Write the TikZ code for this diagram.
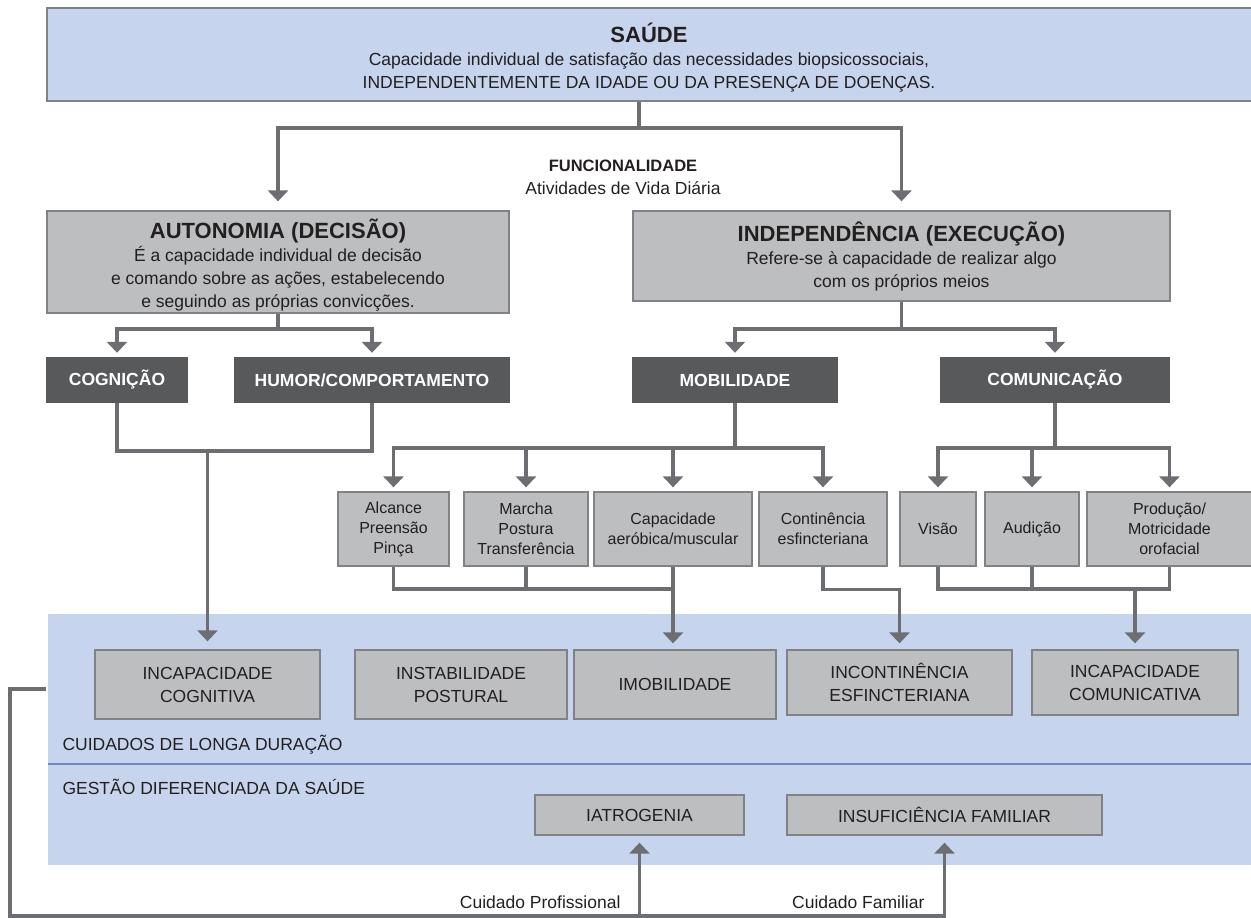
\documentclass[tikz,border=0pt]{standalone}
\usepackage{fontspec}
\setmainfont{Liberation Sans}
\usetikzlibrary{arrows.meta}

\definecolor{regiao}{HTML}{C6D5ED}
\definecolor{divisa}{HTML}{6A8BC0}
\definecolor{cinza}{HTML}{BCBEC0}
\definecolor{borda}{HTML}{808285}
\definecolor{escura}{HTML}{58595B}
\definecolor{linha}{HTML}{6D6E71}
\definecolor{texto}{HTML}{231F20}

\newcommand{\ftitulo}{\fontsize{22}{26}\selectfont\bfseries}
\newcommand{\fcorpo}{\fontsize{17.5}{23}\selectfont}
\newcommand{\fpeq}{\fontsize{16}{20}\selectfont}
\newcommand{\fescura}{\fontsize{17.5}{21}\selectfont\bfseries}

\begin{document}
\begin{tikzpicture}[x=1pt,y=-1pt,text=texto,
  liga/.style={draw=linha,line width=3.2pt},
  seta/.style={liga,-{Triangle[width=20pt,length=11pt]}},
  cxcinza/.style={draw=borda,fill=cinza,line width=1.3pt,inner sep=0pt,align=center,font=\fcorpo},
  cxescura/.style={fill=escura,text=white,inner sep=0pt,minimum height=46pt,font=\fescura},
  cxpeq/.style={cxcinza,minimum height=74pt,font=\fpeq},
  cxbaixo/.style={cxcinza,minimum height=69pt}]

\useasboundingbox (0,0) rectangle (1251,918);

\fill[regiao] (48,614) rectangle (1251,865);
\draw[divisa,line width=2.4pt] (48,764) -- (1251,764);

\coordinate (s1) at (639,128);
\coordinate (a1) at (278,329);
\coordinate (i1) at (901.5,329);
\coordinate (c1) at (207.5,451);
\coordinate (m1) at (735,448);
\coordinate (m2) at (673,589);
\coordinate (k1) at (1055,448);
\coordinate (k2) at (1135,589);
\coordinate (r1) at (46,689);
\coordinate (r2) at (10,916);

\node[cxcinza,fill=regiao,minimum width=1218pt,minimum height=93pt] (saude) at (656,54.5) {};
\node[align=center,font=\fcorpo] (saudetxt) at (649,58)
  {{\ftitulo SAÚDE}\\Capacidade individual de satisfação das necessidades biopsicossociais,\\INDEPENDENTEMENTE DA IDADE OU DA PRESENÇA DE DOENÇAS.};

\node[align=center,font=\fcorpo] (func) at (623,177)
  {{\fontsize{16.5}{20}\selectfont\bfseries FUNCIONALIDADE}\\Atividades de Vida Diária};

\node[cxcinza,minimum width=462pt,minimum height=102pt] (autonomia) at (278,262)
  {\rule{0pt}{26pt}{\ftitulo AUTONOMIA (DECISÃO)}\\É a capacidade individual de decisão\\e comando sobre as ações, estabelecendo\\e seguindo as próprias convicções.};
\node[cxcinza,minimum width=537pt,minimum height=90pt] (independencia) at (901.5,256)
  {{\ftitulo INDEPENDÊNCIA (EXECUÇÃO)}\\Refere-se à capacidade de realizar algo\\com os próprios meios};

\node[cxescura,minimum width=142pt] (cognicao) at (117,380) {COGNIÇÃO};
\node[cxescura,minimum width=276pt] (humor) at (372,380) {HUMOR/COMPORTAMENTO};
\node[cxescura,minimum width=206pt] (mobilidade) at (735,380) {MOBILIDADE};
\node[cxescura,minimum width=230pt] (comunicacao) at (1055,380) {COMUNICAÇÃO};

\node[cxpeq,minimum width=111pt] (alcance) at (393.5,529) {Alcance\\Preensão\\Pinça};
\node[cxpeq,minimum width=124pt] (marcha) at (526,529) {Marcha\\Postura\\Transferência};
\node[cxpeq,minimum width=158pt] (capacidade) at (673,529) {Capacidade\\aeróbica/muscular};
\node[cxpeq,minimum width=128pt] (continencia) at (823,529) {Continência\\esfincteriana};
\node[cxpeq,minimum width=76pt] (visao) at (938,529) {Visão};
\node[cxpeq,minimum width=94pt] (audicao) at (1032,529) {Audição};
\node[cxpeq,minimum width=165pt] (producao) at (1169.5,529) {Produção/\\Motricidade\\orofacial};

\node[cxbaixo,minimum width=225pt] (incapcog) at (207.5,684.5) {INCAPACIDADE\\COGNITIVA};
\node[cxbaixo,minimum width=212pt] (instab) at (461,684.5) {INSTABILIDADE\\POSTURAL};
\node[cxbaixo,minimum width=202pt] (imob) at (675,684.5) {IMOBILIDADE};
\node[cxbaixo,minimum width=225pt,minimum height=65pt] (incont) at (899.5,682.5) {INCONTINÊNCIA\\ESFINCTERIANA};
\node[cxbaixo,minimum width=206pt,minimum height=65pt] (incapcom) at (1135,682.5) {INCAPACIDADE\\COMUNICATIVA};

\node[anchor=west,font=\fcorpo] (longa) at (59,745) {CUIDADOS DE LONGA DURAÇÃO};
\node[anchor=west,font=\fcorpo] (gestao) at (59,787) {GESTÃO DIFERENCIADA DA SAÚDE};

\node[cxcinza,minimum width=209pt,minimum height=40pt] (iatro) at (639.5,815) {IATROGENIA};
\node[cxcinza,minimum width=315pt,minimum height=40pt] (insuf) at (944.5,815) {INSUFICIÊNCIA FAMILIAR};

\node[anchor=east,font=\fcorpo] (profissional) at (624,902) {Cuidado Profissional};
\node[anchor=east,font=\fcorpo] (familiar) at (928,902) {Cuidado Familiar};

\draw[liga] (saude.south -| s1) -- (s1);
\draw[seta,shorten >=9pt] (s1) -| (autonomia.north);
\draw[seta,shorten >=9pt] (s1) -| (independencia.north);

\draw[liga] (autonomia.south) -- (a1);
\draw[seta,shorten >=4pt] (a1) -| (cognicao.north);
\draw[seta,shorten >=4pt] (a1) -| (humor.north);

\draw[liga] (independencia.south) -- (i1);
\draw[seta,shorten >=4pt] (i1) -| (mobilidade.north);
\draw[seta,shorten >=4pt] (i1) -| (comunicacao.north);

\draw[liga] (cognicao.south) |- (c1) -| (humor.south);
\draw[seta,shorten >=8pt] (c1) -- (incapcog.north);

\draw[liga] (mobilidade.south) -- (m1);
\draw[seta,shorten >=4pt] (m1) -| (alcance.north);
\draw[seta,shorten >=4pt] (m1) -| (marcha.north);
\draw[seta,shorten >=4pt] (m1) -| (capacidade.north);
\draw[seta,shorten >=4pt] (m1) -| (continencia.north);

\draw[liga] (comunicacao.south) -- (k1);
\draw[seta,shorten >=4pt] (k1) -| (visao.north);
\draw[seta,shorten >=4pt] (k1) -| (audicao.north);
\draw[seta,shorten >=4pt] (k1) -| (producao.north);

\draw[liga] (alcance.south) |- (m2);
\draw[liga] (marcha.south) -- (marcha.south |- m2);
\draw[seta,shorten >=6pt] (capacidade.south) -- (capacidade.south |- imob.north);
\draw[seta,shorten >=6pt] (continencia.south) -- ++(0,23) -| (incont.north);

\draw[liga] (visao.south) |- (k2) -| (producao.south);
\draw[liga] (audicao.south) -- (audicao.south |- k2);
\draw[seta,shorten >=6pt] (k2) -- (incapcom.north);

\draw[seta,shorten >=7pt] (r1) -| (r2) -| (insuf.south);
\draw[seta,shorten >=7pt] (iatro.south |- r2) -- (iatro.south);

\end{tikzpicture}
\end{document}
